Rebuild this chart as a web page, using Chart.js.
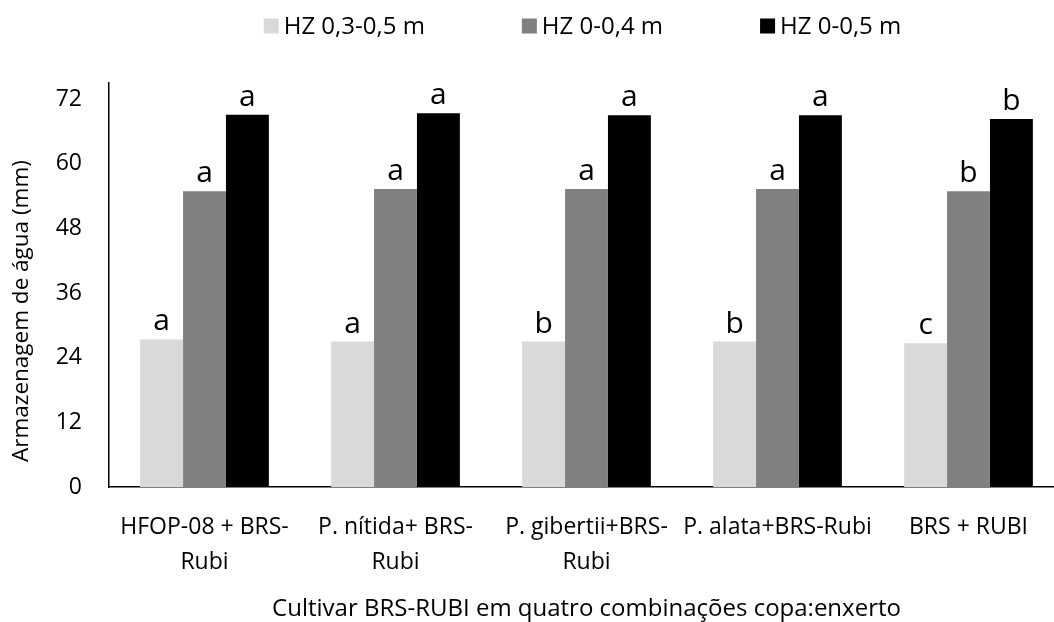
<!DOCTYPE html>
<html>
<head>
<meta charset="utf-8">
<script src="https://cdn.jsdelivr.net/npm/chart.js@4"></script>
<style>
  html, body { margin: 0; padding: 0; background: #fff; overflow: hidden; }
  #wrap { width: 1054px; height: 622px; overflow: hidden; }
</style>
</head>
<body>
<div id="wrap"><canvas id="chart" width="1165" height="622"></canvas></div>
<script>
const categories = [
    ["HFOP-08 + BRS-", "Rubi"],
    ["P. nítida+ BRS-", "Rubi"],
    ["P. gibertii+BRS-", "Rubi"],
    "P. alata+BRS-Rubi",
    "BRS + RUBI"
];
const seriesNames = ["HZ 0,3-0,5 m", "HZ 0-0,4 m", "HZ 0-0,5 m"];
const hz0305 = [27.4, 27.0, 27.0, 27.0, 26.7];
const hz0004 = [54.9, 55.3, 55.3, 55.3, 54.9];
const hz0005 = [69.1, 69.4, 69.0, 69.0, 68.3];
const letters0305 = ["a", "a", "b", "b", "c"];
const letters0004 = ["a", "a", "a", "a", "b"];
const letters0005 = ["a", "a", "a", "a", "b"];
const yTicks = [0, 12, 24, 36, 48, 60, 72];
const yTitle = "Armazenagem de água (mm)";
const xTitle = "Cultivar BRS-RUBI em quatro combinações copa:enxerto";

const colors = ["#d9d9d9", "#808080", "#000000"];
const letterSets = [letters0305, letters0004, letters0005];
const FONT = "'Open Sans', sans-serif";

// letters of the mean test drawn above each bar
const letterPlugin = {
    id: "letters",
    afterDatasetsDraw(chart) {
        const ctx = chart.ctx;
        ctx.save();
        ctx.fillStyle = "#000";
        ctx.font = "30px " + FONT;
        ctx.textAlign = "center";
        ctx.textBaseline = "alphabetic";
        chart.data.datasets.forEach((ds, i) => {
            chart.getDatasetMeta(i).data.forEach((bar, j) => {
                ctx.fillText(letterSets[i][j], bar.x, bar.y - 9);
            });
        });
        ctx.restore();
    }
};

// simple legend row at the top (built-in one uses the same padding vertically)
const legendRow = {
    id: "legendRow",
    afterDraw(chart) {
        const ctx = chart.ctx;
        const box = 15, gap = 5, space = 97, y = 26;
        ctx.save();
        ctx.font = "24px " + FONT;
        ctx.textBaseline = "middle";
        ctx.textAlign = "left";
        const items = chart.data.datasets.map(ds => ({
            text: ds.label, color: ds.backgroundColor, w: ctx.measureText(ds.label).width
        }));
        const total = items.reduce((s, it) => s + box + gap + it.w, 0) + space * (items.length - 1);
        let x = chart.width / 2 - total / 2;
        items.forEach(it => {
            ctx.fillStyle = it.color;
            ctx.fillRect(x, y - box / 2, box, box);
            ctx.fillStyle = "#000";
            ctx.fillText(it.text, x + box + gap, y + 1);
            x += box + gap + it.w + space;
        });
        ctx.restore();
    }
};

// y title sits a bit below the middle of the axis in the original
const yTitlePlugin = {
    id: "yTitle",
    afterDraw(chart) {
        const ctx = chart.ctx;
        const area = chart.chartArea;
        ctx.save();
        ctx.translate(22, (area.top + area.bottom) / 2 + 26);
        ctx.rotate(-Math.PI / 2);
        ctx.font = "22.5px " + FONT;
        ctx.fillStyle = "#000";
        ctx.textAlign = "center";
        ctx.textBaseline = "middle";
        ctx.fillText(yTitle, 0, 0);
        ctx.restore();
    }
};

new Chart(document.getElementById("chart"), {
    type: "bar",
    data: {
        labels: categories,
        datasets: [
            { label: seriesNames[0], data: hz0305, backgroundColor: colors[0] },
            { label: seriesNames[1], data: hz0004, backgroundColor: colors[1] },
            { label: seriesNames[2], data: hz0005, backgroundColor: colors[2] }
        ]
    },
    options: {
        responsive: false,
        devicePixelRatio: 1,
        animation: false,
        categoryPercentage: 0.674,
        barPercentage: 1.0,
        layout: { padding: { top: 83, right: 101, bottom: 0, left: 0 } },
        plugins: {
            tooltip: { enabled: false },
            legend: { display: false }
        },
        scales: {
            x: {
                grid: { display: false, drawTicks: true, tickLength: 8, tickColor: "#000", offset: true },
                border: { color: "#000", width: 1.5 },
                ticks: {
                    color: "#000",
                    font: { family: FONT, size: 23, lineHeight: "35px" },
                    padding: 15,
                    maxRotation: 0,
                    autoSkip: false
                },
                title: {
                    display: true,
                    text: xTitle,
                    color: "#000",
                    font: { family: FONT, size: 24, lineHeight: "26px" },
                    padding: { top: 0, bottom: 0 }
                },
                afterFit(scale) { scale.height = 135; }
            },
            y: {
                min: 0,
                max: 75,
                grid: { display: false, drawTicks: true, tickLength: 7, tickColor: "#000" },
                border: { color: "#000", width: 1.5 },
                ticks: {
                    color: "#000",
                    font: { family: FONT, size: 23 },
                    padding: 20,
                    stepSize: 12
                },
                afterBuildTicks(scale) {
                    scale.ticks = yTicks.map(v => ({ value: v }));
                },
                afterFit(scale) { scale.width = 109; }
            }
        }
    },
    plugins: [letterPlugin, legendRow, yTitlePlugin]
});
</script>
</body>
</html>
